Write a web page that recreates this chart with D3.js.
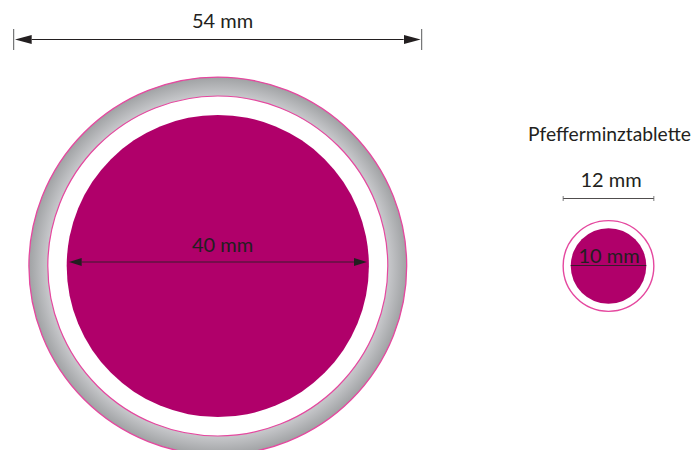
<!DOCTYPE html>
<html>
<head>
<meta charset="utf-8">
<script src="https://cdn.jsdelivr.net/npm/d3@7"></script>
<style>
  html, body { margin: 0; padding: 0; background: #fff; }
  svg { display: block; }
  text { font-family: Lato, sans-serif; fill: #231f20; text-anchor: middle; }
</style>
</head>
<body>
<script>
/*global d3*/

var width = 693, height = 450;

// all sizes in mm
var coinDiameters = [50, 45, 40];
var coinDimension = 54;
var coinInnerDimension = 40;
var mintDiameters = [12, 10];
var mintDimension = 12;
var mintInnerDimension = 10;

var title = "Pfefferminztablette";
var unit = " mm";

var pink = "#e5489f", magenta = "#b0006a", ink = "#231f20";

// px per mm, both drawings share it
var mm = d3.scaleLinear().domain([0, 54]).range([0, 408]);

var coinX = 217.8, coinY = 266, mintX = 608.5, mintY = 266;

var mainSvg = d3.select("body")
            .append("svg")
            .attr("width", width)
            .attr("height", height);

var defs = mainSvg.append("defs");

var ringGrad = defs.append("radialGradient")
    .attr("id", "ringGrad")
    .attr("gradientUnits", "userSpaceOnUse")
    .attr("cx", coinX).attr("cy", coinY)
    .attr("r", mm(coinDiameters[0]) / 2);
ringGrad.append("stop").attr("offset", "0.9").attr("stop-color", "#c8c9cc");
ringGrad.append("stop").attr("offset", "1").attr("stop-color", "#a0a2a4");

function marker(id, w, h) {
    defs.append("marker")
        .attr("id", id)
        .attr("viewBox", "0 0 10 10")
        .attr("preserveAspectRatio", "none")
        .attr("refX", 0)
        .attr("refY", 5)
        .attr("markerUnits", "userSpaceOnUse")
        .attr("markerWidth", w)
        .attr("markerHeight", h)
        .attr("orient", "auto-start-reverse")
        .append("path")
        .attr("d", "M 10 5 L 0 0 L 0 10 z")
        .attr("fill", ink);
}
marker("ArrowBig", 17, 9);
marker("ArrowMid", 13, 8);

// big coin: grey ring, white gap, magenta disc
mainSvg.append("circle")
    .attr("cx", coinX).attr("cy", coinY)
    .attr("r", mm(coinDiameters[0]) / 2)
    .attr("fill", "url(#ringGrad)")
    .attr("stroke", pink).attr("stroke-width", 1.3);

mainSvg.append("circle")
    .attr("cx", coinX).attr("cy", coinY)
    .attr("r", mm(coinDiameters[1]) / 2)
    .attr("fill", "#fff")
    .attr("stroke", pink).attr("stroke-width", 1.2);

mainSvg.append("circle")
    .attr("cx", coinX).attr("cy", coinY)
    .attr("r", mm(coinDiameters[2]) / 2)
    .attr("fill", magenta);

// mint
mainSvg.append("circle")
    .attr("cx", mintX).attr("cy", mintY)
    .attr("r", mm(mintDiameters[0]) / 2)
    .attr("fill", "#fff")
    .attr("stroke", pink).attr("stroke-width", 1.4);

mainSvg.append("circle")
    .attr("cx", mintX).attr("cy", mintY)
    .attr("r", mm(mintDiameters[1]) / 2)
    .attr("fill", magenta);

// 54 mm
var x0 = 13.7, y0 = 39.5;
mainSvg.append("line")
    .attr("x1", x0 + 18).attr("x2", x0 + mm(coinDimension) - 18)
    .attr("y1", y0).attr("y2", y0)
    .attr("stroke", ink).attr("stroke-width", 1)
    .attr("marker-start", "url(#ArrowBig)")
    .attr("marker-end", "url(#ArrowBig)");
[x0, x0 + mm(coinDimension)].forEach(function(x) {
    mainSvg.append("line")
        .attr("x1", x).attr("x2", x)
        .attr("y1", 29).attr("y2", 50)
        .attr("stroke", "#58595b").attr("stroke-width", 1);
});

// 40 mm
var cr = mm(coinInnerDimension) / 2;
mainSvg.append("line")
    .attr("x1", coinX - cr + 15).attr("x2", coinX + cr - 15)
    .attr("y1", 262).attr("y2", 262)
    .attr("stroke", "#3a1a2c").attr("stroke-width", 1)
    .attr("marker-start", "url(#ArrowMid)")
    .attr("marker-end", "url(#ArrowMid)");

// 12 mm
var mr = mm(mintDimension) / 2;
mainSvg.append("line")
    .attr("x1", mintX - mr).attr("x2", mintX + mr)
    .attr("y1", 198.5).attr("y2", 198.5)
    .attr("stroke", ink).attr("stroke-width", 0.8);
[mintX - mr, mintX + mr].forEach(function(x) {
    mainSvg.append("line")
        .attr("x1", x).attr("x2", x)
        .attr("y1", 196).attr("y2", 201)
        .attr("stroke", "#58595b").attr("stroke-width", 0.8);
});

// 10 mm
var dr = mm(mintInnerDimension) / 2;
mainSvg.append("line")
    .attr("x1", mintX - dr).attr("x2", mintX + dr)
    .attr("y1", 265.5).attr("y2", 265.5)
    .attr("stroke", "#3a1a2c").attr("stroke-width", 1);

function label(x, y, s) {
    return mainSvg.append("text")
        .attr("x", x).attr("y", y)
        .attr("font-size", 20)
        .text(s);
}
label(222.5, 28, coinDimension + unit);
label(222.5, 251.5, coinInnerDimension + unit);
label(611, 187, mintDimension + unit);
label(609, 262.5, mintInnerDimension + unit);
label(609.5, 141, title).attr("font-size", 19).attr("textLength", 163).attr("lengthAdjust", "spacingAndGlyphs");
</script>
</body>
</html>
